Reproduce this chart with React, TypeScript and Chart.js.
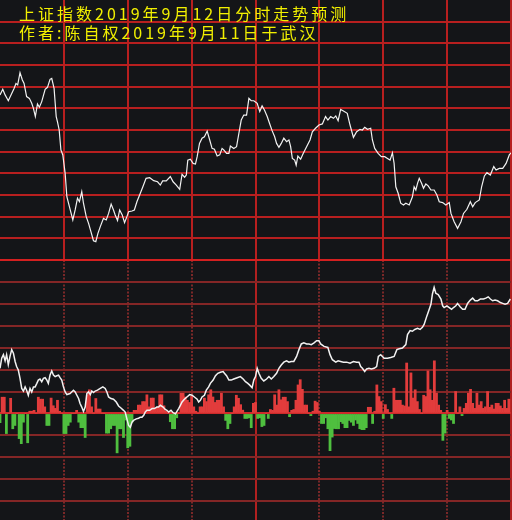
import React, { useEffect, useRef } from 'react';
import { Chart, registerables } from 'chart.js';

Chart.register(...registerables);

const titleLines = ['上证指数2019年9月12日分时走势预测', '作者:陈自权2019年9月11日于武汉'];

const minuteMin = 0;
const minuteMax = 240;
const minuteStep = 30;
const priceMin = 2950;
const priceMax = 3070;
const priceStep = 10;
const flowMin = -50;
const flowMax = 70;
const flowStep = 10;

const priceMinutes = [
  0, 1.3, 2.4, 3.9, 5.5, 6.6, 7.5, 8.3, 9.4, 10.5,
  11.3, 12.5, 13.8, 14.9, 15.7, 16.6, 17.6, 18.5, 19.6, 21.2,
  22.3, 23.5, 24.3, 25.4, 26.4, 27.0, 27.8, 28.6, 29.5, 30.6,
  31.4, 32.6, 34.2, 35.3, 36.4, 37.3, 38.4, 39.2, 40.5, 41.6,
  42.7, 43.9, 45.0, 46.0, 47.1, 48.6, 49.9, 51.0, 52.2, 53.3,
  54.1, 55.2, 56.2, 57.4, 58.5, 59.6, 60.4, 62.0, 63.1, 64.3,
  65.9, 67.1, 68.6, 70.3, 72.2, 74.0, 75.3, 76.4, 78.1, 80.0,
  81.3, 82.8, 84.4, 85.5, 86.7, 87.5, 88.2, 89.4, 90.7, 91.8,
  92.6, 93.7, 94.9, 96.0, 97.3, 98.5, 99.6, 100.7, 102.0, 103.2,
  104.3, 105.1, 106.4, 107.5, 108.2, 109.8, 111.1, 112.2, 113.3, 114.5,
  115.8, 116.9, 118.0,
  119.2, 120.8, 122.0, 123.1, 124.2, 125.5, 126.7, 127.8, 129.0, 129.9,
  131.0, 132.1, 133.3, 134.6, 135.7, 136.5, 137.3, 138.4, 139.1, 139.9,
  141.2, 142.4, 144.0, 145.6, 146.7, 148.2, 149.8, 151.4, 152.9, 154.0,
  155.3, 156.6, 157.7, 158.8, 160.0, 161.3, 163.1, 164.4, 166.0, 167.5,
  169.1, 170.2, 171.3, 172.6, 174.1, 174.9, 176.0, 177.6, 179.1, 180.7,
  182.0, 183.2, 184.3, 185.1, 185.9, 187.0, 188.2, 189.5, 190.6, 192.2,
  193.7, 194.5, 195.3, 196.1, 196.9, 198.0, 198.9, 200.0, 201.1, 202.4,
  203.9, 205.2, 206.3, 207.9, 209.4, 211.0, 211.8, 213.3, 214.9, 216.5,
  217.7, 219.3, 220.9, 222.0, 223.2, 225.1, 226.2, 227.5, 228.7, 230.3,
  231.9, 233.0, 234.5, 236.1, 237.7, 239.2, 240,
];

const priceValues = [
  3026.2, 3028.8, 3026.2, 3023.5, 3026.9, 3029.2, 3031.5, 3030.8, 3036.5, 3033.1,
  3031.5, 3025.4, 3024.6, 3022.3, 3020.0, 3016.2, 3022.0, 3020.5, 3023.1, 3028.8,
  3029.7, 3033.4, 3033.8, 3029.2, 3016.2, 3013.8, 3010.0, 3000.8, 2998.5, 2990.0,
  2979.2, 2974.6, 2968.5, 2973.1, 2978.5, 2976.9, 2981.5, 2976.2, 2970.0, 2966.9,
  2963.1, 2958.9, 2958.5, 2962.3, 2965.4, 2969.2, 2968.5, 2971.5, 2975.8, 2973.1,
  2970.8, 2968.2, 2973.1, 2970.8, 2967.2, 2970.0, 2972.3, 2972.6, 2973.1, 2976.9,
  2980.8, 2983.8, 2987.7, 2988.0, 2986.6, 2986.1, 2984.6, 2986.5, 2986.5, 2988.5,
  2986.1, 2984.6, 2982.6, 2989.5, 2988.2, 2989.2, 2996.1, 2996.5, 2994.6, 2994.3,
  2997.7, 3003.8, 3006.2, 3006.9, 3009.5, 3005.4, 3001.5, 3001.1, 2998.0, 2998.5,
  3001.5, 3000.8, 2999.2, 2999.2, 3002.6, 3001.5, 3002.3, 3008.5, 3014.6, 3016.9,
  3016.9, 3024.6, 3023.5,
  3023.5, 3022.3, 3018.5, 3021.1, 3019.2, 3016.2, 3012.8, 3009.7, 3006.9, 3003.8,
  3002.0, 3003.8, 3006.2, 3004.6, 3005.4, 3002.3, 2996.9, 2996.1, 2993.8, 2998.0,
  2996.5, 2999.2, 3002.3, 3005.4, 3009.2, 3010.8, 3012.3, 3012.8, 3016.2, 3014.6,
  3016.2, 3015.4, 3016.5, 3014.3, 3019.5, 3018.8, 3017.7, 3012.3, 3006.6, 3009.2,
  3010.3, 3010.0, 3011.2, 3010.3, 3010.8, 3005.4, 3001.5, 2999.2, 2997.7, 2997.7,
  2996.9, 2996.1, 2999.5, 2994.6, 2983.8, 2980.8, 2976.2, 2975.4, 2976.2, 2975.4,
  2979.2, 2983.8, 2982.3, 2985.4, 2987.7, 2985.4, 2983.1, 2985.1, 2984.2, 2982.3,
  2982.3, 2980.0, 2976.9, 2976.5, 2975.4, 2976.5, 2971.5, 2967.7, 2964.6, 2967.7,
  2971.5, 2973.4, 2976.9, 2974.6, 2976.5, 2977.7, 2983.8, 2988.8, 2990.3, 2989.2,
  2993.1, 2991.5, 2992.3, 2992.3, 2994.6, 2998.5, 2999.5,
];

const flowMinutes = [
  0.0, 0.8, 1.6, 2.4, 3.1, 3.9, 4.7, 5.5, 6.3, 7.1,
  7.8, 8.6, 9.4, 10.2, 11.0, 11.8, 12.5, 13.3, 14.1, 14.9,
  15.7, 16.5, 17.3, 18.0, 18.8, 19.6, 20.4, 21.2, 22.0, 22.7,
  23.5, 24.3, 25.1, 25.9, 26.7, 27.5, 28.2, 29.0, 29.8, 30.6,
  31.4, 32.9, 34.5, 35.3, 36.1, 36.9, 37.6, 38.4, 39.2, 40.0,
  40.8, 41.6, 42.4, 43.1, 43.9, 44.7, 45.8, 47.1, 48.3, 49.4,
  50.2, 51.0, 52.1, 53.3, 54.6, 55.7, 56.8, 58.0, 58.8, 59.6,
  60.4, 61.2, 62.0, 62.7, 64.0, 65.1, 65.9, 66.7, 67.5, 68.2,
  69.0, 70.3, 71.4, 72.5, 73.7, 74.5, 75.3, 76.6, 77.6, 78.4,
  79.2, 80.3, 81.3, 82.4, 83.1, 83.9, 84.7, 85.5, 86.6, 87.8,
  89.1, 90.2, 91.3, 92.6, 93.3, 94.1, 94.9, 96.0, 96.9, 98.0,
  98.8, 100.1, 101.2, 102.3, 103.5, 104.8, 105.4, 106.4, 107.5, 108.6,
  109.8, 111.4, 112.9, 114.2, 115.3, 116.4, 117.3, 118.4,
  119.2, 120.0, 120.8, 121.6, 122.7, 123.9, 125.2, 126.3, 127.4, 128.6,
  129.9, 131.0, 132.1, 133.3, 134.6, 135.7, 136.8, 138.0, 139.3, 140.4,
  141.5, 142.7, 144.0, 145.1, 146.2, 147.5, 148.7, 149.8, 150.6, 152.2,
  154.0, 155.0, 156.1, 157.7, 158.8, 160.0, 161.3, 162.8, 164.4, 166.0,
  167.5, 168.6, 169.4, 170.2, 171.3, 172.2, 173.3, 174.4, 175.7, 176.9,
  177.7, 178.8, 179.6, 180.4, 182.0, 183.5, 185.1, 186.4, 187.5, 189.0,
  190.6, 191.4, 192.6, 193.7, 194.8, 196.1, 197.3, 198.4, 199.2, 200.5,
  201.6, 202.4, 203.1, 203.9, 204.7, 205.8, 207.1, 207.9, 208.6, 209.9,
  211.0, 212.1, 213.0, 214.1, 214.9, 216.2, 217.3, 218.4, 219.6, 220.9,
  222.0, 223.1, 224.3, 225.6, 227.1, 228.2, 229.3, 230.3, 231.4, 232.5,
  233.7, 235.0, 236.1, 237.2, 238.4, 239.7,
];

const flowValues = [
  20.6, 25.2, 26.8, 24.0, 26.8, 22.2, 26.0, 29.1, 27.5, 23.7,
  21.4, 19.8, 16.0, 11.4, 10.2, 12.1, 10.6, 8.3, 11.4, 9.8,
  12.1, 12.1, 13.7, 15.2, 15.7, 14.5, 16.0, 16.3, 15.2, 13.7,
  17.5, 19.4, 17.5, 16.8, 17.2, 17.5, 16.3, 15.2, 12.1, 9.8,
  8.6, 9.1, 10.6, 9.8, 8.3, 6.8, 4.5, 2.9, 0.9, 2.9,
  9.1, 9.8, 8.6, 10.2, 9.5, 10.2, 10.6, 11.4, 12.1, 11.4,
  9.8, 7.5, 6.8, 6.5, 5.2, 3.4, 2.5, 1.4, 0.6, -2.5,
  -5.5, -6.3, -4.0, -3.2, -2.5, -2.2, -1.7, -1.7, -0.9, 0.6,
  1.4, 1.4, 2.2, 2.2, 2.9, 2.9, 3.7, 2.9, 1.8, 1.4,
  0.6, 1.4, 0.3, -0.2, 0.9, 2.2, 3.7, 5.2, 6.5, 7.5,
  8.6, 8.3, 7.5, 6.5, 5.2, 6.0, 7.5, 8.3, 10.6, 12.1,
  13.7, 15.2, 17.2, 18.3, 18.8, 19.1, 18.3, 17.2, 15.2, 15.2,
  15.7, 16.3, 16.8, 15.7, 14.5, 13.7, 12.9, 11.7,
  15.2, 16.8, 20.6, 18.3, 16.0, 14.8, 15.7, 16.8, 15.7, 16.8,
  18.3, 20.6, 22.1, 23.4, 24.0, 23.4, 23.7, 23.7, 26.0, 29.1,
  31.7, 32.2, 31.7, 31.7, 31.4, 32.2, 33.2, 33.2, 31.7, 30.6,
  30.1, 26.8, 24.5, 23.4, 24.0, 23.7, 23.4, 23.4, 22.9, 23.7,
  23.4, 23.4, 21.4, 20.6, 19.1, 20.3, 20.6, 20.3, 20.6, 21.4,
  26.0, 26.8, 26.0, 25.2, 25.2, 25.5, 26.0, 29.1, 29.5, 29.8,
  31.4, 36.0, 37.8, 37.5, 38.3, 38.8, 38.3, 39.3, 40.6, 44.5,
  47.5, 49.8, 54.5, 57.5, 54.8, 54.2, 52.2, 49.1, 48.3, 49.1,
  48.3, 47.5, 48.3, 49.1, 50.2, 48.6, 47.5, 47.5, 50.2, 51.7,
  52.6, 51.4, 51.4, 52.2, 52.2, 52.6, 53.2, 52.2, 51.4, 51.7,
  51.4, 50.6, 50.2, 49.8, 50.2, 52.2,
];

const volumeValues = [
  -4.2, 7.4, 7.4, -9.2, 0, 6.9, -7, -5.5, 0, -11.5,
  -13.8, -4, 0, -13.4, 1, 1, 1.4, 0, 7.4, 6.5,
  6.5, 3, -5.5, -5.5, 7, 3.5, 2.3, 6, 1, 0,
  -9.2, -9.2, -5.5, -4, 0, 0, 1.4, -4, -6.5, -6.5,
  -11, 8.5, 10.8, 3, 0, 6.8, 2, 2, 0, 0,
  -9, -9, -7, -5.5, -5.5, -18, -7, -7, -11, -3,
  -15.7, -15, -4, 1.4, 1.4, 3.8, 3.8, 5.4, 5.4, 8.5,
  3, 7, 7, 2.3, 3, 8.5, 8.5, 3.5, 1, 0,
  -3.8, -7, -7, -2, 0, 9.2, 9.2, 7.5, 6, 5,
  8, 3, 1, 0, 3, 3, 7, 5.4, 8.5, 10.8,
  7.5, 5, 6, 6, 9.2, 3, -3.2, -7, -4.6, 0,
  3, 8.3, 6.9, 4, 1.5, -2.3, -2.3, -2, -6.5, 4.6,
  5, -2.3, -2, -6, -5.5, 0, -2.3, 1.8, 1.4, 8.5,
  3.8, 10.8, 6.2, 7.4, 7.4, 5.4, -1.5, 1.4, 1.8, 6,
  13, 15.4, 11, 3.8, 3.8, 0, -1, 1, 5.6, 5,
  1, -4.6, -4.6, -2, -7, -17, -10.8, -6.9, -7, -7,
  -3.8, -4.6, -6.5, -6.5, -3.2, -4, -5.5, -3, -4.6, -7,
  -7.4, -7.4, -6.5, 2.8, 2.8, -4.6, 1, 13, 7.7, 5.4,
  -2.3, 4, 1.8, 0, -2.3, 11.5, 6, 6, 6, 3.8,
  3.4, 23, 3, 18.5, 7, 10.8, 5.4, 1.8, 0, 8.3,
  7.7, 19.4, 10.8, 6, 24, 9.2, 3.8, 1.4, -12.3, -9,
  1.4, -2.3, -3, -4.6, 10, 0, 3, -1, 2.3, 4.6,
  9.2, 11, 4.6, 2.3, 9.2, 3.8, 5.4, 2.3, 3, 10,
  2.8, 3.8, 2, 4.6, 4.6, 3.4, 2.3, 6, 2.3, 6.5,
];

const volumeMinutes = volumeValues.map((_, i) => i);

const BG = '#141518';
const TOP_GRID = '#b81f1f';
const BOTTOM_GRID = '#842626';
const DOT_GRID = '#7a2828';
const STRONG_RED = '#d42020';
const UP_COLOR = '#e23c3c';
const DOWN_COLOR = '#4fbf3f';
const TEXT_COLOR = '#f2f000';
const NONE = 'rgba(0,0,0,0)';

const titlePlugin = {
  id: 'titleText',
  afterDraw(chart: any) {
    const ctx = chart.ctx as CanvasRenderingContext2D;
    ctx.save();
    ctx.font = '16px "Noto Sans CJK SC", sans-serif';
    (ctx as any).letterSpacing = '3px';
    ctx.fillStyle = TEXT_COLOR;
    ctx.textBaseline = 'middle';
    ctx.textAlign = 'left';
    titleLines.forEach((t, i) => ctx.fillText(t, 19, 14 + i * 19));
    ctx.restore();
  },
};

export default function App() {
  const topRef = useRef<HTMLCanvasElement>(null);
  const bottomRef = useRef<HTMLCanvasElement>(null);

  useEffect(() => {
    const top = new Chart(topRef.current as HTMLCanvasElement, {
      type: 'line',
      data: {
        datasets: [
          {
            data: priceMinutes.map((m, i) => ({ x: m, y: priceValues[i] })),
            borderColor: '#f2f2f2',
            borderWidth: 1.2,
            pointRadius: 0,
            tension: 0,
            fill: false,
          },
        ],
      },
      options: {
        animation: false,
        responsive: false,
        events: [],
        layout: { padding: { left: 0, right: 1, top: 0, bottom: 0 } },
        plugins: { legend: { display: false }, tooltip: { enabled: false }, title: { display: false } },
        scales: {
          x: {
            type: 'linear',
            min: minuteMin,
            max: minuteMax,
            ticks: { display: false, stepSize: minuteStep },
            grid: {
              drawTicks: false,
              color: (c: any) => (c.tick && c.tick.value === minuteMin ? NONE : TOP_GRID),
              lineWidth: 2,
            },
            border: { display: false },
          },
          y: {
            type: 'linear',
            min: priceMin,
            max: priceMax,
            ticks: { display: false, stepSize: priceStep },
            grid: {
              drawTicks: false,
              color: (c: any) => (c.tick && c.tick.value === priceMax ? NONE : TOP_GRID),
              lineWidth: 2,
            },
            border: { display: false },
          },
        },
      } as any,
      plugins: [titlePlugin],
    });

    const bottom = new Chart(bottomRef.current as HTMLCanvasElement, {
      type: 'bar',
      data: {
        datasets: [
          {
            type: 'line',
            data: flowMinutes.map((m, i) => ({ x: m, y: flowValues[i] })),
            borderColor: '#f2f2f2',
            borderWidth: 1.5,
            pointRadius: 0,
            tension: 0,
            fill: false,
            order: 0,
          } as any,
          {
            type: 'bar',
            data: volumeMinutes.map((m, i) => ({ x: m, y: volumeValues[i] })),
            backgroundColor: (c: any) => ((c.parsed && c.parsed.y) >= 0 ? UP_COLOR : DOWN_COLOR),
            borderWidth: 0,
            barPercentage: 1,
            categoryPercentage: 1,
            order: 1,
          } as any,
        ],
      },
      options: {
        animation: false,
        responsive: false,
        events: [],
        layout: { padding: { left: 0, right: 1, top: 1, bottom: 1 } },
        plugins: { legend: { display: false }, tooltip: { enabled: false }, title: { display: false } },
        scales: {
          x: {
            type: 'linear',
            min: minuteMin,
            max: minuteMax,
            offset: false,
            ticks: { display: false, stepSize: minuteStep },
            grid: {
              offset: false,
              drawTicks: false,
              color: (c: any) => {
                const v = c.tick ? c.tick.value : -1;
                if (v === minuteMin) return NONE;
                if (v % 120 === 0) return '#b02020';
                return DOT_GRID;
              },
              lineWidth: 2,
            },
            border: {
              display: false,
              dash: (c: any) => (c.tick && c.tick.value % 120 !== 0 ? [2, 1.5] : []),
            },
          },
          y: {
            type: 'linear',
            min: flowMin,
            max: flowMax,
            ticks: { display: false, stepSize: flowStep },
            grid: {
              drawTicks: false,
              color: (c: any) => {
                const v = c.tick ? c.tick.value : NaN;
                if (v === flowMax) return STRONG_RED;
                if (v === 0) return '#cc2a2a';
                return BOTTOM_GRID;
              },
              lineWidth: 2,
            },
            border: { display: false },
          },
        },
      } as any,
    });

    return () => {
      top.destroy();
      bottom.destroy();
    };
  }, []);

  return (
    <div
      style={{
        position: 'fixed',
        left: 0,
        top: 0,
        width: 512,
        height: 520,
        background: BG,
        overflow: 'hidden',
      }}
    >
      <canvas ref={topRef} width={512} height={260} style={{ position: 'absolute', left: 0, top: 0 }} />
      <canvas ref={bottomRef} width={512} height={265} style={{ position: 'absolute', left: 0, top: 259 }} />
    </div>
  );
}
